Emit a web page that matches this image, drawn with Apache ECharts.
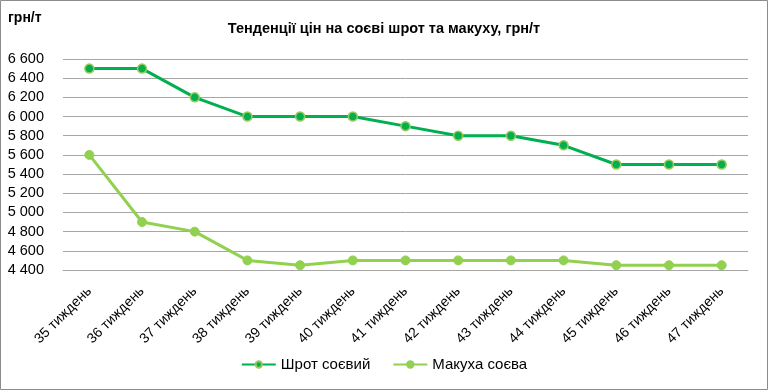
<!DOCTYPE html>
<html>
<head>
<meta charset="utf-8">
<script src="https://cdn.jsdelivr.net/npm/echarts@6/dist/echarts.min.js"></script>
<style>
html,body{margin:0;padding:0;background:#fff;}
#chart{width:768px;height:390px;}
</style>
</head>
<body>
<div id="chart"></div>
<script>
const categories = ['35 тиждень','36 тиждень','37 тиждень','38 тиждень','39 тиждень','40 тиждень','41 тиждень','42 тиждень','43 тиждень','44 тиждень','45 тиждень','46 тиждень','47 тиждень'];
const shrot = [6500, 6500, 6200, 6000, 6000, 6000, 5900, 5800, 5800, 5700, 5500, 5500, 5500];
const makukha = [5600, 4900, 4800, 4500, 4450, 4500, 4500, 4500, 4500, 4500, 4450, 4450, 4450];
const seriesNames = ['Шрот соєвий', 'Макуха соєва'];
const titleText = 'Тенденції цін на соєві шрот та макуху, грн/т';
const unitText = 'грн/т';

const font = '"Liberation Sans", Arial, sans-serif';
const chart = echarts.init(document.getElementById('chart'));
chart.setOption({
  animation: false,
  textStyle: {fontFamily: font},
  title: {
    text: titleText,
    left: 'center',
    top: 16,
    textStyle: {fontSize: 14.5, fontWeight: 'bold', color: '#000', fontFamily: font}
  },
  graphic: [
    {type: 'rect', shape: {x: 0.5, y: 0.5, width: 767, height: 389}, style: {fill: 'none', stroke: '#8c8c8c', lineWidth: 1}, silent: true},
    {type: 'text', left: 8, top: 11, style: {text: unitText, font: 'bold 14px ' + font, fill: '#000'}}
  ],
  grid: {left: 63, right: 20, top: 59, bottom: 120},
  legend: {
    bottom: 13,
    left: 'center',
    itemWidth: 34,
    itemHeight: 8,
    itemGap: 22,
    textStyle: {fontSize: 15, color: '#000', fontFamily: font},
    data: seriesNames
  },
  xAxis: {
    type: 'category',
    data: categories,
    boundaryGap: true,
    axisLine: {lineStyle: {color: '#a6a6a6'}},
    axisTick: {show: false},
    axisLabel: {rotate: 45, fontSize: 14, color: '#000', margin: 19, interval: 0}
  },
  yAxis: {
    type: 'value',
    min: 4400,
    max: 6600,
    interval: 200,
    axisLine: {show: false},
    axisTick: {show: false},
    splitLine: {lineStyle: {color: '#a6a6a6', width: 1}},
    axisLabel: {
      fontSize: 14.5, color: '#000', margin: 19,
      formatter: v => String(v).replace(/\B(?=(\d{3})+(?!\d))/g, ' ')
    }
  },
  series: [
    {
      name: seriesNames[0], type: 'line', data: shrot,
      symbol: 'circle', symbolSize: 9,
      lineStyle: {color: '#00B050', width: 3},
      itemStyle: {color: '#00B050', borderColor: '#9BC95A', borderWidth: 1.5}
    },
    {
      name: seriesNames[1], type: 'line', data: makukha,
      symbol: 'circle', symbolSize: 9,
      lineStyle: {color: '#92D050', width: 3},
      itemStyle: {color: '#92D050', borderColor: '#92D050', borderWidth: 1}
    }
  ]
});
</script>
</body>
</html>
